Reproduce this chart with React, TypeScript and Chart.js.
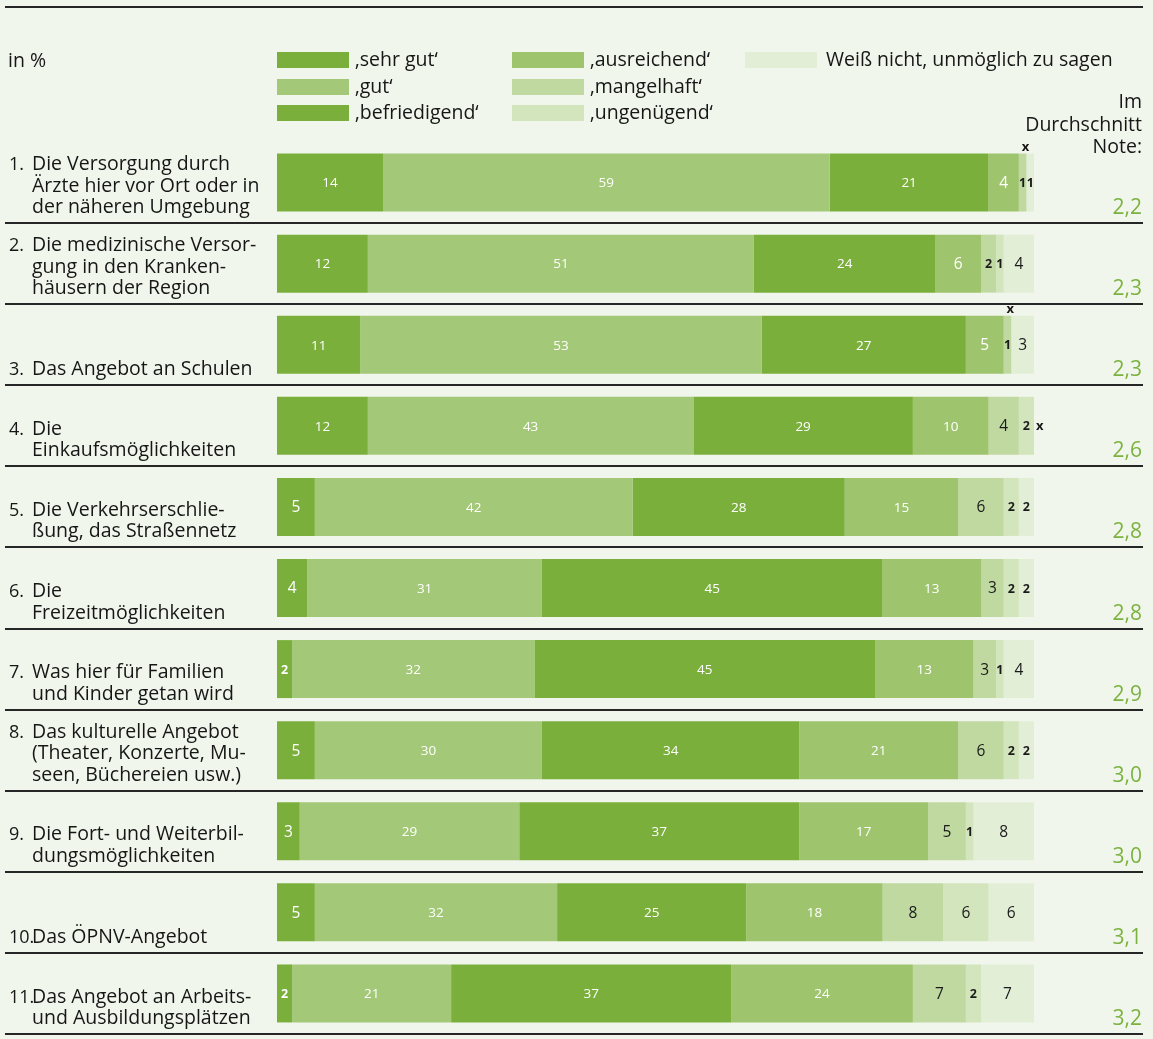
import React, { useEffect, useRef } from "react";
import { Chart, registerables } from "chart.js";
Chart.register(...registerables);

const W = 1153;
const H = 1039;

const itemNumbers = ["1.", "2.", "3.", "4.", "5.", "6.", "7.", "8.", "9.", "10.", "11."];
const categories: string[][] = [
  ["Die Versorgung durch", "Ärzte hier vor Ort oder in", "der näheren Umgebung"],
  ["Die medizinische Versor-", "gung in den Kranken-", "häusern der Region"],
  ["Das Angebot an Schulen"],
  ["Die", "Einkaufsmöglichkeiten"],
  ["Die Verkehrserschlie-", "ßung, das Straßennetz"],
  ["Die", "Freizeitmöglichkeiten"],
  ["Was hier für Familien", "und Kinder getan wird"],
  ["Das kulturelle Angebot", "(Theater, Konzerte, Mu-", "seen, Büchereien usw.)"],
  ["Die Fort- und Weiterbil-", "dungsmöglichkeiten"],
  ["Das ÖPNV-Angebot"],
  ["Das Angebot an Arbeits-", "und Ausbildungsplätzen"],
];

const seriesNames = [
  "‚sehr gut‘",
  "‚gut‘",
  "‚befriedigend‘",
  "‚ausreichend‘",
  "‚mangelhaft‘",
  "‚ungenügend‘",
  "Weiß nicht, unmöglich zu sagen",
];

const sehrGut = [14, 12, 11, 12, 5, 4, 2, 5, 3, 5, 2];
const gut = [59, 51, 53, 43, 42, 31, 32, 30, 29, 32, 21];
const befriedigend = [21, 24, 27, 29, 28, 45, 45, 34, 37, 25, 37];
const ausreichend = [4, 6, 5, 10, 15, 13, 13, 21, 17, 18, 24];
const mangelhaft = [1, 2, 1, 4, 6, 3, 3, 6, 5, 8, 7];
const ungenuegend = [0, 1, 0, 2, 2, 2, 1, 2, 1, 6, 2];
const weissNicht = [1, 4, 3, 0, 2, 2, 4, 2, 8, 6, 7];

const averageGrades = ["2,2", "2,3", "2,3", "2,6", "2,8", "2,8", "2,9", "3,0", "3,0", "3,1", "3,2"];

// "x" = value below 0.5 %
const xMarks = [
  { row: 0, series: 5, place: "above" },
  { row: 2, series: 5, place: "above" },
  { row: 3, series: 6, place: "right" },
];

const seriesColors = ["#7baf3b", "#a3c878", "#7baf3b", "#9ec56d", "#bfd9a1", "#d3e5bc", "#e3eed7"];
const labelColors = ["#ffffff", "#ffffff", "#ffffff", "#ffffff", "#1a1a1a", "#1a1a1a", "#1a1a1a"];

const BG = "#f1f6ec";
const TEXT = "#161616";
const NOTE = "#7cb240";
const FONT = "'Open Sans', 'Noto Sans', sans-serif";
const TXT_FONT = `500 19.5px ${FONT}`;

const allSeries = [sehrGut, gut, befriedigend, ausreichend, mangelhaft, ungenuegend, weissNicht];

const decorPlugin = {
  id: "decor",
  beforeDraw(chart: any) {
    const ctx = chart.ctx;
    ctx.save();
    ctx.fillStyle = BG;
    ctx.fillRect(0, 0, chart.width, chart.height);
    ctx.restore();
  },
  afterDatasetsDraw(chart: any) {
    const ctx = chart.ctx;
    const area = chart.chartArea;
    const yScale = chart.scales.y;
    const n = categories.length;
    const pitch = (area.bottom - area.top) / n;
    ctx.save();

    // top rule
    ctx.strokeStyle = "#262626";
    ctx.lineWidth = 2;
    ctx.beginPath();
    ctx.moveTo(5, 7);
    ctx.lineTo(1143, 7);
    ctx.stroke();

    // header texts
    ctx.fillStyle = TEXT;
    ctx.font = TXT_FONT;
    ctx.textBaseline = "alphabetic";
    ctx.textAlign = "left";
    ctx.fillText("in %", 8, 67);

    // legend
    const legendCols = [277, 512, 745];
    const legendRows = [60, 87, 113];
    const legendPos = [
      [0, 0], [0, 1], [0, 2], [1, 0], [1, 1], [1, 2], [2, 0],
    ];
    chart.data.datasets.forEach((ds: any, i: number) => {
      const [c, r] = legendPos[i];
      const x = legendCols[c];
      const y = legendRows[r];
      ctx.fillStyle = ds.backgroundColor;
      ctx.fillRect(x, y - 8, 72, 16);
      ctx.fillStyle = TEXT;
      ctx.font = TXT_FONT;
      ctx.textAlign = "left";
      ctx.fillText(ds.label, x + (i === 6 ? 81 : 78), y + 6);
    });

    ctx.textAlign = "right";
    ctx.font = TXT_FONT;
    ctx.fillText("Im", 1142, 108);
    ctx.fillText("Durchschnitt", 1142, 131);
    ctx.fillText("Note:", 1142, 153);

    for (let i = 0; i < n; i++) {
      const center = yScale.getPixelForValue(i);
      const bottom = center + pitch / 2;
      // separator
      ctx.strokeStyle = "#262626";
      ctx.lineWidth = 2;
      ctx.beginPath();
      ctx.moveTo(5, Math.round(bottom));
      ctx.lineTo(1143, Math.round(bottom));
      ctx.stroke();

      // category labels, bottom aligned
      const lines = categories[i];
      ctx.fillStyle = TEXT;
      ctx.font = TXT_FONT;
      ctx.textAlign = "left";
      const lh = 21.5;
      const lastBase = bottom - 10;
      const firstBase = lastBase - lh * (lines.length - 1);
      lines.forEach((ln, k) => {
        ctx.fillText(ln, 32, firstBase + k * lh);
      });
      ctx.font = `500 18px ${FONT}`;
      ctx.fillText(itemNumbers[i], 9, firstBase);

      // average grade
      ctx.fillStyle = NOTE;
      ctx.font = `500 21px ${FONT}`;
      ctx.textAlign = "right";
      ctx.fillText(averageGrades[i], 1142, bottom - 9);
    }

    // value labels
    ctx.textAlign = "center";
    ctx.textBaseline = "middle";
    chart.data.datasets.forEach((ds: any, di: number) => {
      const meta = chart.getDatasetMeta(di);
      meta.data.forEach((bar: any, i: number) => {
        const v = ds.data[i];
        if (!v) return;
        const cx = (bar.x + bar.base) / 2;
        let size = 13.5;
        let weight = "500";
        if (v >= 10) size = 13.5;
        else if (v >= 3) size = 15.5;
        else { size = 12.5; weight = "bold"; }
        ctx.font = `${weight} ${size}px ${FONT}`;
        ctx.fillStyle = labelColors[di];
        ctx.fillText(String(v), cx, bar.y + 1);
      });
    });

    // x marks
    ctx.fillStyle = TEXT;
    ctx.font = `bold 13px ${FONT}`;
    xMarks.forEach((m) => {
      const bar: any = chart.getDatasetMeta(m.series).data[m.row];
      if (m.place === "above") {
        ctx.textAlign = "center";
        ctx.textBaseline = "alphabetic";
        ctx.fillText("x", bar.base - 1, bar.y - bar.height / 2 - 3);
      } else {
        ctx.textAlign = "left";
        ctx.textBaseline = "middle";
        ctx.fillText("x", bar.x + 2, bar.y);
      }
    });

    ctx.restore();
  },
};

export default function App() {
  const ref = useRef<HTMLCanvasElement | null>(null);
  useEffect(() => {
    if (!ref.current) return;
    const chart = new Chart(ref.current, {
      type: "bar",
      data: {
        labels: categories.map((c) => c.join(" ")),
        datasets: allSeries.map((data, i) => ({
          label: seriesNames[i],
          data,
          backgroundColor: seriesColors[i],
          borderWidth: 0,
          barPercentage: 0.715,
          categoryPercentage: 1,
        })),
      },
      options: {
        indexAxis: "y",
        responsive: false,
        animation: false,
        devicePixelRatio: 1,
        layout: { padding: { left: 277, right: 119, top: 142, bottom: 5 } },
        scales: {
          x: { stacked: true, min: 0, max: 100, display: false },
          y: { stacked: true, display: false },
        },
        plugins: {
          legend: { display: false },
          tooltip: { enabled: false },
        },
      },
      plugins: [decorPlugin],
    } as any);
    return () => chart.destroy();
  }, []);
  return (
    <div style={{ position: "absolute", left: 0, top: 0, width: W, height: H, background: BG, overflow: "hidden" }}>
      <canvas ref={ref} width={W} height={H} style={{ display: "block", width: W, height: H }} />
    </div>
  );
}
